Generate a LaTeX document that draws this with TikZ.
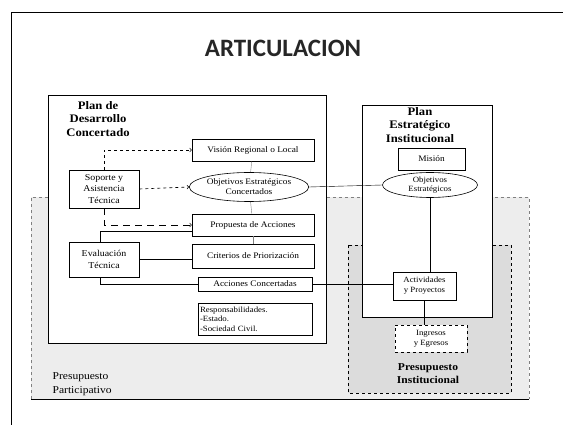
\documentclass[tikz,border=0pt]{standalone}
\usepackage{fontspec}
\setmainfont[FakeStretch=1.1]{Liberation Serif}
\newfontfamily\titlefont{Carlito}
\usetikzlibrary{shapes.geometric}

\definecolor{partgray}{HTML}{EDEDED}
\definecolor{instgray}{HTML}{DCDCDC}

\tikzset{
  item/.style={draw,fill=white,inner sep=0pt,font=\fontsize{8.5}{10}\selectfont,align=center},
  oval/.style={draw,ellipse,fill=white,inner sep=0pt,font=\fontsize{8.5}{10}\selectfont,align=center},
  head/.style={font=\fontsize{11.5}{13.5}\selectfont\bfseries,align=center},
  link/.style={draw,thin},
  dasharrow/.style={->,dashed},
  longdash/.style={->,dash pattern=on 7pt off 5pt,semithick}
}

\begin{document}
\begin{tikzpicture}[x=1pt,y=-1pt,line width=0.6pt]
\useasboundingbox (0,0) rectangle (563,425);
\fill[white] (0,0) rectangle (563,425);

% frame
\draw[line width=1pt] (11,425) -- (11,13) -- (563,13);
\node[font=\titlefont\bfseries\fontsize{25}{28}\selectfont,text=black!85] (title) at (283,48) {ARTICULACION};

% presupuesto participativo
\fill[partgray] (31,197) rectangle (529,399);
\draw[gray,dashed] (31,399) -- (31,197) -- (529,197) -- (529,399);
\draw[line width=0.9pt] (31,399) -- (529,399);
\node[anchor=west,align=left,font=\fontsize{10.5}{13.5}\selectfont] (ppart) at (49,384) {Presupuesto\\Participativo};

% presupuesto institucional
\draw[fill=instgray,dashed] (348,245) rectangle (511,393);

% plan de desarrollo concertado
\draw[fill=white] (48,95) rectangle (326,343);
\node[head] (pdc) at (98,119) {Plan de\\Desarrollo\\Concertado};

% plan estrategico institucional
\draw[fill=white] (362,105) rectangle (492,317);
\node[head] (pei) at (420,125) {Plan\\Estratégico\\Institucional};

\node[head,font=\fontsize{10.5}{13}\selectfont\bfseries] (pinst) at (428,374) {Presupuesto\\Institucional};

% nodes PDC
\node[item,minimum width=122,minimum height=22] (vision)  at (253,150)   {Visión Regional o Local};
\node[item,minimum width=70,minimum height=38,font=\fontsize{9}{11.5}\selectfont] (soporte) at (104,189) {Soporte y\\Asistencia\\Técnica};
\node[oval,minimum width=115,minimum height=29] (objdc)   at (249,187)   {Objetivos Estratégicos\\Concertados};
\node[item,minimum width=122,minimum height=22] (prop)    at (253,225)   {Propuesta de Acciones};
\node[item,minimum width=122,minimum height=24] (crit)    at (253,256)   {Criterios de Priorización};
\node[item,minimum width=70,minimum height=35,font=\fontsize{9}{11.5}\selectfont] (eval) at (104,259.5) {Evaluación\\Técnica};
\node[item,minimum width=114,minimum height=14] (acc)     at (255,284)   {Acciones Concertadas};
\node[item,minimum width=114,minimum height=32,align=left,text width=110,font=\fontsize{8}{9.5}\selectfont] (resp) at (255,319)
  {Responsabilidades.\\-Estado.\\-Sociedad Civil.};

% nodes PEI
\node[item,minimum width=67,minimum height=22]  (mision)  at (431.5,159) {Misión};
\node[oval,minimum width=95,minimum height=25,font=\fontsize{8}{9.5}\selectfont] (objpei) at (430,185) {Objetivos\\Estratégicos};
\node[item,minimum width=63,minimum height=28,font=\fontsize{8}{10}\selectfont] (activ) at (424.5,286) {Actividades\\y Proyectos};
\node[item,dashed,minimum width=72,minimum height=27,font=\fontsize{8}{10}\selectfont] (ingr) at (431,338.5) {Ingresos\\y Egresos};

% connectors
\draw[dasharrow] (soporte.north) |- (vision.west);
\draw[dasharrow] (soporte.east) -- (objdc.west);
\draw[longdash] (soporte.south) |- (prop.west);
\draw[link] ([xshift=-4pt]eval.north) |- ([yshift=-6pt]prop.west);
\draw[link] (eval.east) -- (eval.east -| crit.west);
\draw[link] ([xshift=-4pt]eval.south) |- (acc.west);
\draw[link,gray] (vision) -- (objdc);
\draw[link,gray] (objdc) -- (prop);
\draw[link,gray] (prop) -- (crit);
\draw[link] (objdc.east) -- (objpei.west);
\draw[link] (acc.east) -- (acc.east -| activ.west);
\draw[link] (objpei.south) -- (objpei.south |- activ.north);
\draw[link] (activ.south) -- (activ.south |- ingr.north);
\end{tikzpicture}
\end{document}
